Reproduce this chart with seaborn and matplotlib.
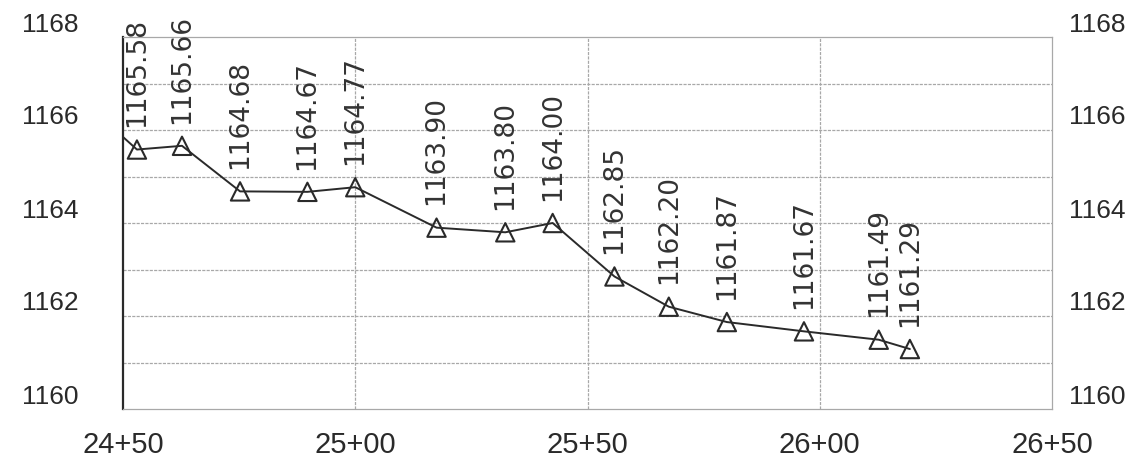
import matplotlib
matplotlib.use("Agg")
import matplotlib.pyplot as plt
import matplotlib.transforms as mtransforms
import seaborn as sns
import pandas as pd

# ---- data ----
stations = [2453.0, 2462.7, 2475.2, 2489.7, 2500.0, 2517.5, 2532.3, 2542.5,
            2555.8, 2567.5, 2580.0, 2596.6, 2612.7, 2619.4]
elevations = [1165.58, 1165.66, 1164.68, 1164.67, 1164.77, 1163.90, 1163.80,
              1164.00, 1162.85, 1162.20, 1161.87, 1161.67, 1161.49, 1161.29]
lead_station = [2450.0]
lead_elevation = [1165.85]
x_ticks = [2450, 2500, 2550, 2600, 2650]
x_tick_labels = ["24+50", "25+00", "25+50", "26+00", "26+50"]
y_ticks = [1160, 1162, 1164, 1166, 1168]
y_tick_labels = ["1160", "1162", "1164", "1166", "1168"]

sns.set_theme(style="white")
plt.rcParams["font.family"] = ["Liberation Sans", "DejaVu Sans"]

fig = plt.figure(figsize=(11.33, 4.58), dpi=100)
ax = fig.add_axes([123 / 1133, 1 - 409 / 458, (1052 - 123) / 1133, (409 - 37) / 458])

line_df = pd.DataFrame({"station": lead_station + stations,
                        "elev": lead_elevation + elevations})
pts_df = pd.DataFrame({"station": stations, "elev": elevations})

ink = "#2a2a2a"
sns.lineplot(data=line_df, x="station", y="elev", ax=ax, color=ink,
             linewidth=1.4, sort=True, estimator=None, zorder=3)
sns.scatterplot(data=pts_df, x="station", y="elev", ax=ax, marker="^", s=175,
                facecolor="none", edgecolor=ink, linewidth=1.5, zorder=4)

for xs, ys in zip(stations, elevations):
    ax.annotate(f"{ys:.2f}", (xs, ys), xytext=(0, 16), textcoords="offset points",
                rotation=90, ha="center", va="bottom", fontsize=19, color="#333333",
                family=["DejaVu Sans"], annotation_clip=False, zorder=5)

ax.set_xlim(2450, 2650)
ax.set_ylim(1160, 1168)

grid_kw = dict(color="#a8a8a8", linewidth=0.9, linestyle=(0, (2.5, 1)))
for yv in range(1161, 1168):
    ax.axhline(yv, **grid_kw, zorder=1)
for xv in [2500, 2550, 2600]:
    ax.axvline(xv, **grid_kw, zorder=1)

for side in ["top", "right", "bottom"]:
    ax.spines[side].set_color("#a8a8a8")
    ax.spines[side].set_linewidth(0.9)
    ax.spines[side].set_linestyle((0, (2.5, 1)))
ax.spines["left"].set_color(ink)
ax.spines["left"].set_linewidth(1.6)

ax.set_xticks(x_ticks)
ax.set_xticklabels(x_tick_labels)
ax.set_yticks(y_ticks)
ax.set_yticklabels(y_tick_labels)
ax.tick_params(axis="x", length=0, pad=16, labelsize=21, labelcolor=ink)
ax.tick_params(axis="y", length=0, pad=32, labelsize=19, labelcolor=ink)
ax.set_xlabel("")
ax.set_ylabel("")

ax2 = ax.twinx()
ax2.set_ylim(1160, 1168)
ax2.set_yticks(y_ticks)
ax2.set_yticklabels(y_tick_labels)
ax2.tick_params(axis="y", length=0, pad=12, labelsize=19, labelcolor=ink)
for s in ax2.spines.values():
    s.set_visible(False)

shift = mtransforms.ScaledTranslation(0, 15 / 100, fig.dpi_scale_trans)
for lab in ax.get_yticklabels() + ax2.get_yticklabels():
    lab.set_transform(lab.get_transform() + shift)

fig.savefig("out.png", dpi=100)
